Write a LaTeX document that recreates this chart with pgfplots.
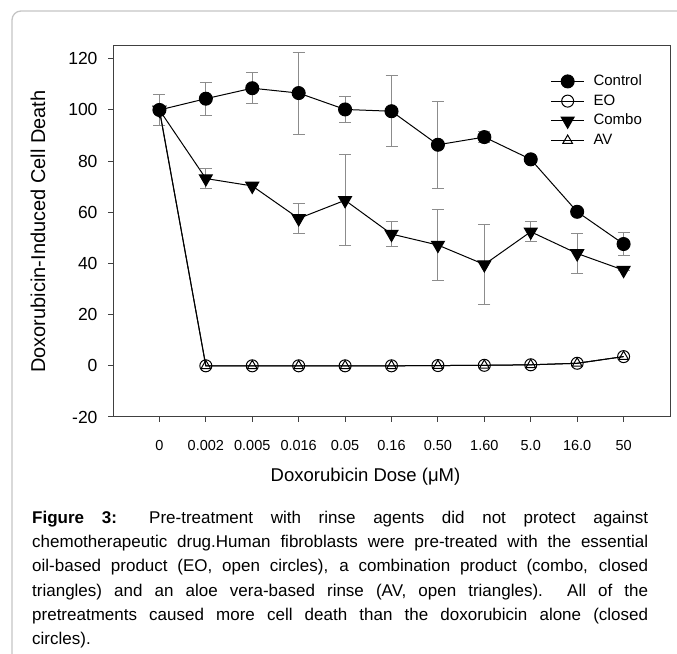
\documentclass[border=0pt]{standalone}
\usepackage{fontspec}
\setmainfont{Liberation Sans}
\usepackage{pgfplots}
\pgfplotsset{compat=1.18}
\definecolor{errgray}{HTML}{8C8C8C}
\definecolor{framegray}{HTML}{C4C4C4}

\begin{document}
\begin{tikzpicture}
\useasboundingbox (0,0) rectangle (677pt,653pt);
% page frame
\draw[framegray, line width=1.3pt, rounded corners=9pt] (12pt,-5pt) -- (12pt,642pt) -- (690pt,642pt);

\begin{axis}[
  at={(113pt,236pt)}, anchor=south west,
  width=557pt, height=371pt, scale only axis,
  xmin=-1, xmax=11, ymin=-20, ymax=125,
  xtick={0,...,10},
  xticklabels={0,0.002,0.005,0.016,0.05,0.16,0.50,1.60,5.0,16.0,50},
  ytick={-20,0,...,120},
  xtick pos=bottom, ytick pos=left,
  tick align=outside,
  major tick length=5pt,
  axis line style={line width=1pt, black!75},
  every tick/.style={black!75, line width=1pt},
  x tick label style={font=\fontsize{14.5}{15}\selectfont, yshift=-15pt},
  y tick label style={font=\fontsize{17.5}{18}\selectfont, xshift=-7pt},
  /pgf/number format/assume math mode=true,
  xlabel={Doxorubicin Dose (μM)},
  ylabel={Doxorubicin-Induced Cell Death},
  xlabel style={font=\fontsize{18.5}{20}\selectfont, xshift=-26pt, yshift=-10pt},
  ylabel style={font=\fontsize{20}{22}\selectfont, yshift=16pt},
  legend style={draw=none, fill=none, at={(rel axis cs:0.78,0.937)}, anchor=north west,
    font=\fontsize{15}{16}\selectfont,
    nodes={text height=11pt, text depth=3pt, inner sep=2.85pt},
    /tikz/every odd column/.append style={column sep=6pt}},
  legend cell align=left,
  legend image code/.code={\draw[mark repeat=2,mark phase=2] plot coordinates {(0pt,0pt)(16.5pt,0pt)(33pt,0pt)};},
  every axis plot/.append style={black, line width=1pt},
  error bars/error bar style={errgray, line width=1pt},
  error bars/error mark options={errgray, mark size=6pt, line width=1pt, rotate=90},
]
% Control
\addplot[mark=*, mark size=6.5pt, mark options={fill=black},
  error bars/.cd, y dir=both, y explicit] table[x=x, y=y, y error=e] {
x y e
0 100 6
1 104.4 6.5
2 108.5 6
3 106.6 16
4 100.2 5
5 99.5 13.8
6 86.4 17
7 89.4 2
8 80.7 0
9 60.2 0
10 47.6 4.5
};
% EO
\addplot[mark=o, mark size=6pt, mark options={fill=white}] table[x=x, y=y] {
x y
0 100
1 0
2 0
3 0
4 0
5 0
6 0.1
7 0.2
8 0.4
9 1.0
10 3.6
};
% Combo
\addplot[mark=triangle*, mark size=7.5pt, mark options={fill=black, rotate=180},
  error bars/.cd, y dir=both, y explicit] table[x=x, y=y, y error=e] {
x y e
0 100 6
1 73.2 4
2 70.3 0
3 57.6 6
4 64.7 17.7
5 51.5 5
6 47.2 13.8
7 39.6 15.6
8 52.4 4
9 43.9 8
10 37.4 0
};
% AV
\addplot[mark=triangle, mark size=5.5pt, mark options={fill=white}] table[x=x, y=y] {
x y
0 100
1 0
2 0
3 0
4 0
5 0
6 0.1
7 0.2
8 0.4
9 1.0
10 3.6
};
\legend{Control, EO, Combo, AV}
\end{axis}

\node[anchor=north west, text width=616pt, align=justify, inner sep=0pt,
  font=\fontsize{17}{24.2}\selectfont] at (32pt,142pt) {\noindent\textbf{Figure 3:} Pre-treatment with rinse agents did not protect against\linebreak
chemotherapeutic drug.Human fibroblasts were pre-treated with the essential\linebreak
oil-based product (EO, open circles), a combination product (combo, closed\linebreak
triangles) and an aloe vera-based rinse (AV, open triangles).\ \ All of the\linebreak
pretreatments caused more cell death than the doxorubicin alone (closed\linebreak
circles).};
\end{tikzpicture}
\end{document}
